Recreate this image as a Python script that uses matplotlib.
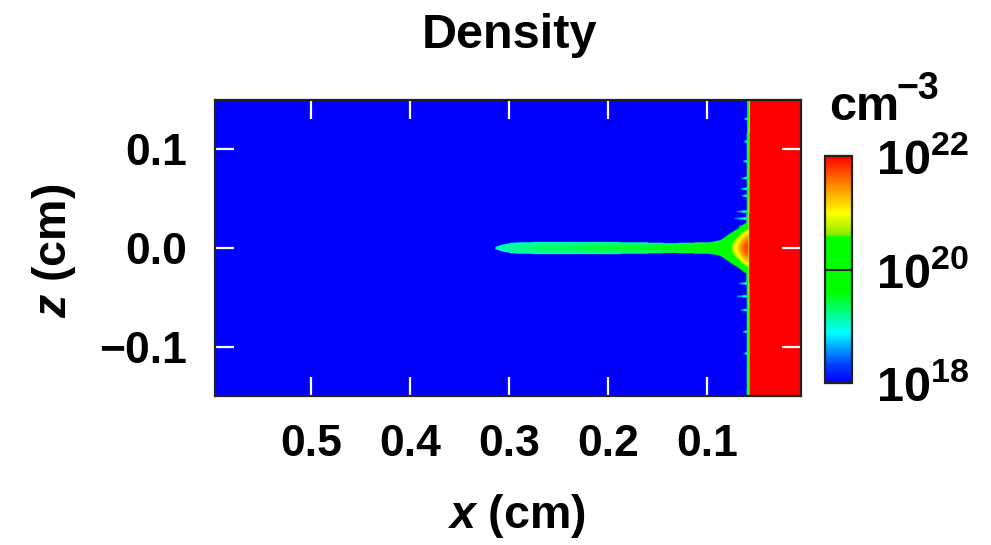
import numpy as np
import matplotlib
matplotlib.use("Agg")
import matplotlib.pyplot as plt
from matplotlib.colors import LinearSegmentedColormap, Normalize

plt.rcParams["font.family"] = ["Liberation Sans", "DejaVu Sans"]
plt.rcParams["font.weight"] = "bold"
plt.rcParams["mathtext.fontset"] = "custom"
plt.rcParams["mathtext.rm"] = "Liberation Sans:bold"
plt.rcParams["mathtext.bf"] = "Liberation Sans:bold"
plt.rcParams["mathtext.it"] = "Liberation Sans:bold:italic"
plt.rcParams["mathtext.default"] = "rm"

# ---- plume along the axis (x in cm, log10 density in cm^-3) ----
plume_x = [0.314, 0.309, 0.297, 0.269, 0.238, 0.208, 0.168, 0.137, 0.117,
           0.097, 0.087, 0.077, 0.069, 0.064, 0.059]
plume_halfwidth = [0.0012, 0.003, 0.0055, 0.0062, 0.006, 0.0062, 0.0058, 0.005,
                   0.0055, 0.006, 0.008, 0.015, 0.020, 0.024, 0.027]
plume_core = [19.05, 19.15, 19.2, 19.3, 19.35, 19.42, 19.48, 19.55, 19.62,
              19.72, 19.95, 20.5, 21.2, 21.6, 21.8]
plume_edge = [18.85, 18.9, 19.0, 19.05, 19.1, 19.15, 19.2, 19.25, 19.3,
              19.4, 19.45, 19.5, 19.5, 19.5, 19.5]

# ---- target surface position vs z ----
surface_z = [-0.15, -0.10, -0.05, -0.02, 0.0, 0.02, 0.05, 0.10, 0.15]
surface_x = [0.0576, 0.0577, 0.0579, 0.0581, 0.0580, 0.0581, 0.0579, 0.0577, 0.0574]

# ---- filaments leaving the surface (z position, length in cm) ----
spike_z = [0.131, 0.108, 0.088, 0.071, 0.060, 0.053, 0.037, 0.030, 0.022,
           -0.036, -0.049, -0.063, -0.085, -0.107]
spike_len = [0.003, 0.003, 0.004, 0.005, 0.006, 0.005, 0.010, 0.012, 0.008,
             0.008, 0.010, 0.006, 0.004, 0.003]

background_log = 18.0
target_log = 22.5

x_ticks = [0.5, 0.4, 0.3, 0.2, 0.1]
x_ticklabels = ["0.5", "0.4", "0.3", "0.2", "0.1"]
z_ticks = [-0.1, 0.0, 0.1]
z_ticklabels = ["\u22120.1", "0.0", "0.1"]
cbar_ticks = [18, 20, 22]
cbar_ticklabels = [r"$10^{18}$", r"$10^{20}$", r"$10^{22}$"]

# ---- build the density map ----
dx = 0.0004
xg = np.arange(0.0, 0.6 + dx, dx)
zg = np.arange(-0.15, 0.15 + dx, dx)
X, Z = np.meshgrid(xg, zg)
field = np.full(X.shape, background_log)

surf = np.interp(zg, surface_z, surface_x)[:, None]
band = 0.0028

# plume
px = np.array(plume_x)[::-1]
hw = np.interp(xg, px, np.array(plume_halfwidth)[::-1], left=0, right=0)
core = np.interp(xg, px, np.array(plume_core)[::-1])
edge = np.interp(xg, px, np.array(plume_edge)[::-1])
inside = (np.abs(Z) < hw[None, :]) & (X <= plume_x[0]) & (X > surf)
frac = np.zeros_like(X)
np.divide(np.abs(Z), hw[None, :], out=frac, where=hw[None, :] > 0)
plume_val = edge[None, :] + (core - edge)[None, :] * (1 - frac ** 2)
field = np.where(inside, np.maximum(field, plume_val), field)

# filaments (tapering toward their tips)
for zs, ln in zip(spike_z, spike_len):
    s0 = np.interp(zs, surface_z, surface_x) + band
    t = np.clip((X - s0) / ln, 0, 1)
    m = (np.abs(Z - zs) < 0.0014 * (1 - 0.6 * t)) & (X >= s0 - band) & (X <= s0 + ln)
    val = 19.0 - 0.5 * t
    field = np.where(m, np.maximum(field, val), field)

# surface layer and target
layer = (X >= surf) & (X < surf + band)
layer_val = 21.3 - 2.2 * (X - surf) / band
field = np.where(layer, np.maximum(field, layer_val), field)
field = np.where(X < surf, target_log, field)

# ---- colour map ----
cmap = LinearSegmentedColormap.from_list("dens", [
    (0.00, (0.0, 0.0, 1.0)),
    (0.08, (0.0, 0.25, 1.0)),
    (0.22, (0.0, 1.0, 1.0)),
    (0.40, (0.0, 1.0, 0.0)),
    (0.645, (0.0, 1.0, 0.0)),
    (0.655, (0.55, 0.92, 0.0)),
    (0.75, (1.0, 1.0, 0.0)),
    (0.87, (1.0, 0.55, 0.0)),
    (1.00, (1.0, 0.0, 0.0)),
])
cmap.set_under((0.0, 0.0, 1.0))
cmap.set_over((1.0, 0.0, 0.0))
norm = Normalize(vmin=18, vmax=22)

fig = plt.figure(figsize=(9.91, 5.45), dpi=100)
ax = fig.add_axes([215 / 991, 1 - 396 / 545, 586 / 991, 296 / 545])
im = ax.imshow(field, origin="lower", extent=[xg[0], xg[-1], zg[0], zg[-1]],
               cmap=cmap, norm=norm, aspect="auto", interpolation="antialiased")
ax.set_xlim(0.597, 0.005)
ax.set_ylim(-0.15, 0.15)
ax.set_xticks(x_ticks)
ax.set_xticklabels(x_ticklabels)
ax.set_yticks(z_ticks)
ax.set_yticklabels(z_ticklabels)
ax.tick_params(direction="in", length=14, width=1.6, color="white",
               top=True, right=True, labelsize=32, pad=20)
for sp in ax.spines.values():
    sp.set_color("#222222")
    sp.set_linewidth(1.6)

fig.text(509 / 991, 1 - 36 / 545, "Density", ha="center", va="center",
         fontsize=35, fontweight="bold")
fig.text(516 / 991, 1 - 516 / 545, r"$\mathit{x}$ (cm)", ha="center",
         va="center", fontsize=33.5)
fig.text(54 / 991, 1 - 251 / 545, r"$\mathit{z}$ (cm)", ha="center",
         va="center", fontsize=33.5, rotation=90)

cax = fig.add_axes([825 / 991, 1 - 383 / 545, 27 / 991, 227 / 545])
cb = fig.colorbar(im, cax=cax, ticks=cbar_ticks)
cb.ax.set_yticklabels(cbar_ticklabels)
cb.ax.tick_params(direction="in", length=19.5, width=1.5, color="#222222",
                  labelsize=35, pad=17)
cb.outline.set_edgecolor("#222222")
cb.outline.set_linewidth(1.6)

# unit label above the colour bar
fig.text(829 / 991, 1 - 120 / 545, "cm", ha="left", va="baseline",
         fontsize=35)
fig.text(896 / 991, 1 - 99 / 545, "\u22123", ha="left", va="baseline",
         fontsize=27)

fig.savefig("out.png", dpi=100)
